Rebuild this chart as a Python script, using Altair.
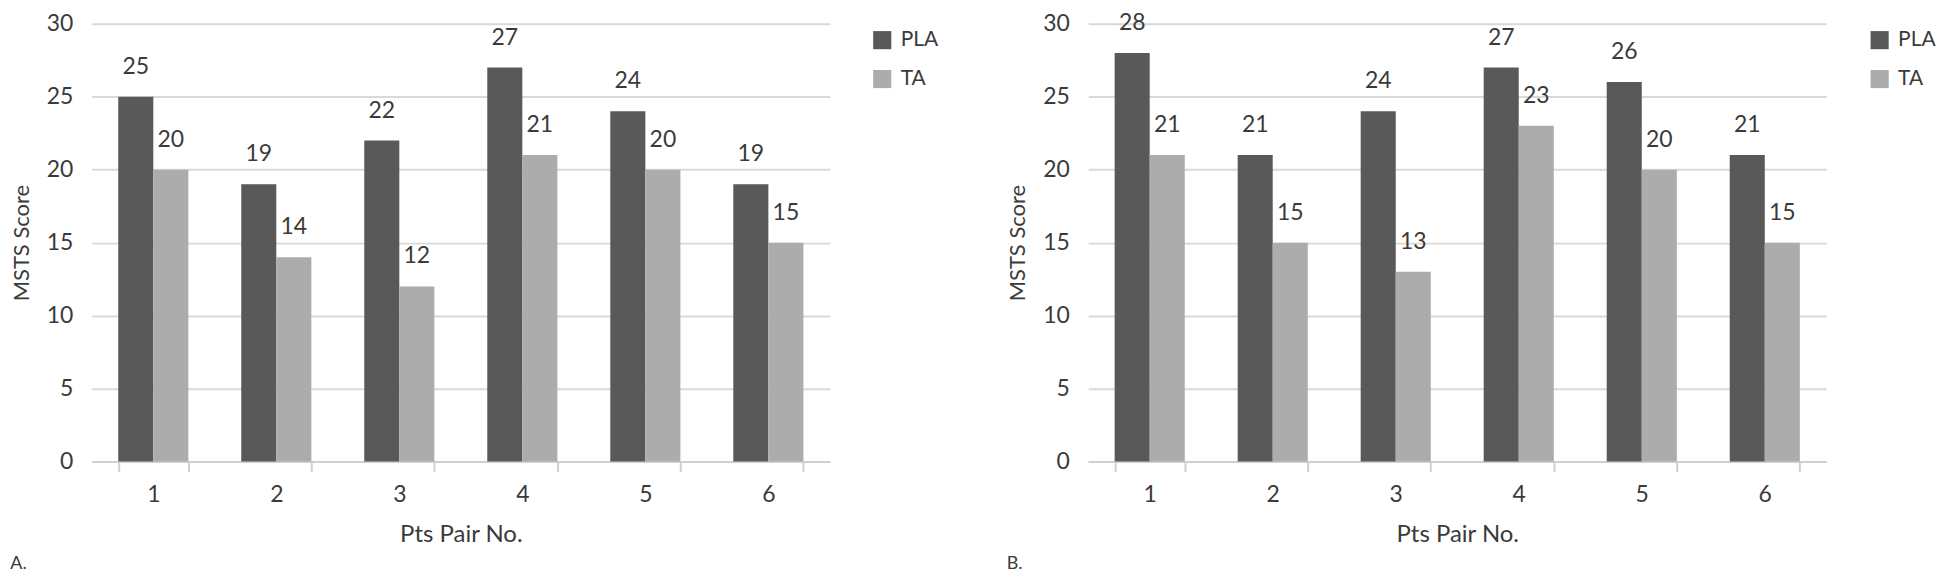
import altair as alt
import pandas as pd

pairs = ["1", "2", "3", "4", "5", "6"]
series = ["PLA", "TA"]
pla_a = [25, 19, 22, 27, 24, 19]
ta_a = [20, 14, 12, 21, 20, 15]
pla_b = [28, 21, 24, 27, 26, 21]
ta_b = [21, 15, 13, 23, 20, 15]
colors = ["#595959", "#acacac"]

FONT = "Lato"
TXT = "#3a3a3a"


def make_df(pla, ta):
    rows = []
    for p, a, b in zip(pairs, pla, ta):
        rows.append({"pair": p, "group": "PLA", "score": a})
        rows.append({"pair": p, "group": "TA", "score": b})
    return pd.DataFrame(rows)


def panel(df, letter, lx):
    base = alt.Chart(df).encode(
        x=alt.X("pair:N", sort=pairs,
                scale=alt.Scale(paddingInner=0.43, paddingOuter=0.215),
                axis=alt.Axis(title="Pts Pair No.", labelAngle=0, tickBand="extent",
                              tickSize=10, tickColor="#d0d0d0", tickWidth=2,
                              domainColor="#d0d0d0", domainWidth=2,
                              labelPadding=12, titlePadding=16, titleFontSize=24,
                              grid=False)),
        xOffset=alt.XOffset("group:N", sort=series,
                            scale=alt.Scale(paddingInner=0, paddingOuter=0)),
        y=alt.Y("score:Q", scale=alt.Scale(domain=[0, 30]),
                axis=alt.Axis(title="MSTS Score", values=[0, 5, 10, 15, 20, 25, 30],
                              domain=False, ticks=False, labelPadding=19,
                              titlePadding=13, titleFontSize=22,
                              gridColor="#d9d9d9", gridWidth=2)),
    )
    bars = base.mark_bar().encode(
        color=alt.Color("group:N", sort=series,
                        scale=alt.Scale(domain=series, range=colors),
                        legend=alt.Legend(title=None, orient="none", legendX=lx, legendY=6,
                                          symbolType="square", symbolSize=330,
                                          symbolStrokeWidth=0, labelFontSize=21,
                                          labelFont=FONT, labelColor=TXT,
                                          rowPadding=17, labelOffset=8)),
    )
    labels = base.mark_text(baseline="alphabetic", dy=-23, fontSize=23,
                            font=FONT, color=TXT).encode(text="score:Q")
    return alt.layer(bars, labels).properties(
        width=740, height=439,
        title=alt.TitleParams(letter, orient="bottom", anchor="start", frame="bounds",
                              fontSize=18, font=FONT, color=TXT, fontWeight="normal",
                              offset=9),
    )


left = panel(make_df(pla_a, ta_a), "A.", 782)
right = panel(make_df(pla_b, ta_b), "B.", 783)

chart = alt.hconcat(left, right, spacing=68).resolve_scale(color="independent").resolve_legend(
    color="independent"
).configure_axis(
    labelFont=FONT, titleFont=FONT, labelFontSize=23,
    labelColor=TXT, titleColor=TXT, titleFontWeight="normal",
).configure_view(stroke=None).properties(
    padding={"left": 2, "top": 3, "right": 2, "bottom": 2}
)

chart.save("out.html", embed_options={"renderer": "svg", "actions": False})
